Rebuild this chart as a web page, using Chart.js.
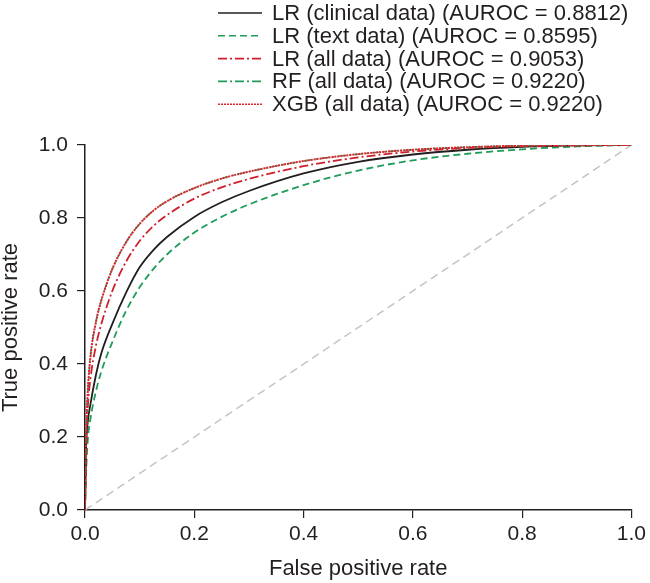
<!DOCTYPE html>
<html lang="en">
<head>
  <meta charset="utf-8" />
  <title>ROC curves</title>
  <script src="https://cdn.jsdelivr.net/npm/chart.js@4/dist/chart.umd.min.js"></script>
  <style>
    body { margin: 0; background: #fff; }
    #chart-container { width: 650px; height: 583px; position: relative; }
  </style>
</head>
<body>
  <div id="chart-container">
    <canvas id="roc"></canvas>
  </div>

  <script>
    // Data
    const fpr = [0, 0.002, 0.005, 0.01, 0.02, 0.03, 0.05, 0.075, 0.1, 0.125, 0.15, 0.2, 0.25, 0.3, 0.4, 0.5, 0.6, 0.7, 0.8, 0.9, 1.0];
    const tprClinical = [0, 0.17, 0.24, 0.29, 0.37, 0.43, 0.51, 0.595, 0.665, 0.712, 0.748, 0.803, 0.843, 0.874, 0.922, 0.954, 0.974, 0.987, 0.995, 0.999, 1.0];
    const tprText     = [0, 0.10, 0.19, 0.25, 0.325, 0.38, 0.46, 0.545, 0.61, 0.66, 0.70, 0.76, 0.803, 0.837, 0.89, 0.93, 0.958, 0.976, 0.988, 0.996, 1.0];
    const tprAllLR    = [0, 0.18, 0.28, 0.36, 0.45, 0.51, 0.60, 0.68, 0.737, 0.778, 0.808, 0.853, 0.884, 0.907, 0.942, 0.966, 0.982, 0.992, 0.997, 0.999, 1.0];
    const tprRF       = [0, 0.20, 0.32, 0.42, 0.515, 0.575, 0.66, 0.733, 0.784, 0.82, 0.846, 0.882, 0.908, 0.927, 0.956, 0.975, 0.987, 0.994, 0.998, 0.9995, 1.0];
    const tprXGB      = [0, 0.20, 0.32, 0.42, 0.515, 0.575, 0.66, 0.733, 0.784, 0.82, 0.846, 0.882, 0.908, 0.927, 0.956, 0.975, 0.987, 0.994, 0.998, 0.9995, 1.0];
    const chanceX = [0, 1];
    const chanceY = [0, 1];
    const labels = [
      "LR (clinical data) (AUROC = 0.8812)",
      "LR (text data) (AUROC = 0.8595)",
      "LR (all data) (AUROC = 0.9053)",
      "RF (all data) (AUROC = 0.9220)",
      "XGB (all data) (AUROC = 0.9220)"
    ];
    const tickValues = [0, 0.2, 0.4, 0.6, 0.8, 1.0];

    const INK = "#231f20";
    const FONT = "'Liberation Sans', Arial, sans-serif";

    function pts(xs, ys) {
      return xs.map((x, i) => ({ x: x, y: ys[i] }));
    }

    function curve(label, ys, color, dash, order, width) {
      return {
        label: label,
        data: pts(fpr, ys),
        borderColor: color,
        borderDash: dash,
        borderWidth: width || 1.8,
        pointRadius: 0,
        showLine: true,
        fill: false,
        cubicInterpolationMode: "monotone",
        order: order,
        inLegend: true
      };
    }

    // custom legend so the dash patterns show in the samples
    const rocLegend = {
      id: "rocLegend",
      afterDraw(chart) {
        const ctx = chart.ctx;
        const rows = chart.data.datasets.filter(d => d.inLegend);
        ctx.save();
        ctx.font = "22px " + FONT;
        ctx.textBaseline = "middle";
        rows.forEach((ds, i) => {
          const y = 13 + i * 22.8;
          ctx.strokeStyle = ds.borderColor;
          ctx.lineWidth = 1.6;
          ctx.setLineDash(ds.borderDash || []);
          ctx.beginPath();
          ctx.moveTo(218, y);
          ctx.lineTo(262, y);
          ctx.stroke();
          ctx.fillStyle = INK;
          ctx.fillText(ds.label, 272, y + 1);
        });
        ctx.restore();
      }
    };

    const datasets = [
      curve(labels[0], tprClinical, INK, [], 3),
      curve(labels[1], tprText, "#1e9c58", [7, 4], 4),
      curve(labels[2], tprAllLR, "#cf1f2e", [9, 3, 2, 3], 2),
      curve(labels[3], tprRF, "#1e9c58", [9, 3, 2, 3], 1, 1.4),
      curve(labels[4], tprXGB, "#e3242e", [2, 1], 0, 2),
      {
        label: "chance",
        data: pts(chanceX, chanceY),
        borderColor: "#c4c4c4",
        borderDash: [8, 5],
        borderWidth: 1.5,
        pointRadius: 0,
        showLine: true,
        order: 5
      }
    ];

    const tickFont = { size: 21, family: FONT };
    const titleFont = { size: 22, family: FONT, lineHeight: 1.0 };
    const fmt = v => tickValues.some(t => Math.abs(t - v) < 1e-9) ? v.toFixed(1) : "";

    new Chart(document.getElementById("roc"), {
      type: "scatter",
      data: { datasets: datasets },
      plugins: [rocLegend],
      options: {
        responsive: true,
        maintainAspectRatio: false,
        animation: false,
        layout: { padding: { left: 0, right: 17, top: 145, bottom: 0 } },
        plugins: { legend: { display: false }, tooltip: { enabled: false } },
        scales: {
          x: {
            type: "linear", min: 0, max: 1,
            ticks: { stepSize: 0.2, padding: 4, color: INK, font: tickFont, callback: fmt },
            grid: { drawOnChartArea: false, tickLength: 8, color: INK, lineWidth: 1.2 },
            border: { color: INK, width: 1.5 },
            title: { display: true, text: "False positive rate", color: INK, font: titleFont, padding: { top: 0, bottom: 3 } },
            afterFit(s) { s.height = 73; }
          },
          y: {
            type: "linear", min: 0, max: 1,
            ticks: { stepSize: 0.2, padding: 9, color: INK, font: tickFont, callback: fmt },
            grid: { drawOnChartArea: false, tickLength: 8, color: INK, lineWidth: 1.2 },
            border: { color: INK, width: 1.5 },
            title: { display: true, text: "True positive rate", color: INK, font: titleFont, padding: { top: 0, bottom: 0 } },
            afterFit(s) { s.width = 85; }
          }
        }
      }
    });
  </script>
</body>
</html>
